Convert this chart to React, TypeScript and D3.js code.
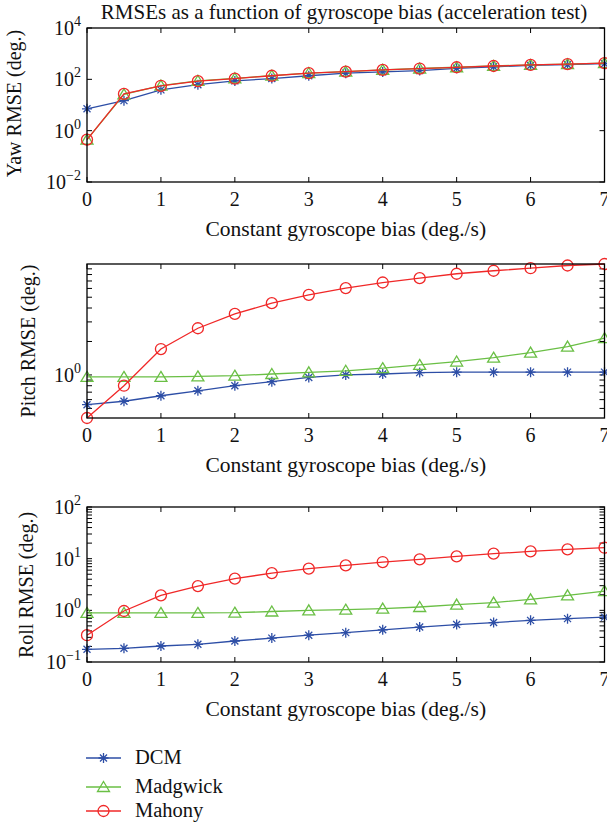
import React from 'react';
import * as d3 from 'd3';

const biasValues = [0, 0.5, 1, 1.5, 2, 2.5, 3, 3.5, 4, 4.5, 5, 5.5, 6, 6.5, 7];
const xTickValues = [0, 1, 2, 3, 4, 5, 6, 7];
const seriesNames = ['DCM', 'Madgwick', 'Mahony'];
const seriesColors = ['#2d4ea6', '#6abf45', '#f02828'];
const seriesMarkers = ['star', 'triangle', 'circle'];

const yawDCM = [7.1, 14.8, 38.9, 61.7, 87, 107, 138, 174, 195, 219, 269, 309, 347, 372, 407];
const yawMadgwick = [0.45, 26, 57, 87, 109, 139, 176, 201, 235, 264, 296, 332, 364, 390, 428];
const yawMahony = [0.45, 27, 56, 85, 107, 138, 174, 200, 234, 263, 295, 331, 363, 389, 427];

const pitchDCM = [0.54, 0.58, 0.65, 0.72, 0.8, 0.87, 0.95, 1.0, 1.02, 1.05, 1.06, 1.06, 1.06, 1.06, 1.06];
const pitchMadgwick = [0.96, 0.96, 0.96, 0.97, 0.985, 1.02, 1.055, 1.09, 1.15, 1.23, 1.32, 1.43, 1.59, 1.8, 2.14];
const pitchMahony = [0.41, 0.8, 1.71, 2.63, 3.54, 4.42, 5.25, 6.04, 6.78, 7.42, 8.13, 8.65, 9.12, 9.65, 9.95];

const rollDCM = [0.176, 0.184, 0.204, 0.22, 0.255, 0.29, 0.33, 0.37, 0.42, 0.475, 0.53, 0.58, 0.64, 0.69, 0.74];
const rollMadgwick = [0.89, 0.89, 0.89, 0.89, 0.9, 0.95, 1.0, 1.03, 1.08, 1.16, 1.29, 1.41, 1.63, 1.95, 2.36];
const rollMahony = [0.33, 0.97, 1.95, 2.95, 4.1, 5.26, 6.4, 7.4, 8.6, 9.7, 11.1, 12.5, 13.8, 15.1, 16.3];

const yawTickExponents = [-2, 0, 2, 4];
const pitchTickExponents = [0];
const rollTickExponents = [-1, 0, 1, 2];

const titleText = 'RMSEs as a function of gyroscope bias (acceleration test)';
const xLabelText = 'Constant gyroscope bias (deg./s)';
const yLabels = ['Yaw RMSE (deg.)', 'Pitch RMSE (deg.)', 'Roll RMSE (deg.)'];

const FONT = '"Liberation Serif", "Times New Roman", serif';
const W = 607;
const H = 827;
const LEFT = 87;
const RIGHT = 604.5;

type Panel = {
  top: number;
  bottom: number;
  domain: [number, number];
  series: number[][];
  tickExps: number[];
  minor: boolean;
  yLabel: string;
  yLabelX: number;
};

const pitchAll = [...pitchDCM, ...pitchMadgwick, ...pitchMahony];

const panels: Panel[] = [
  { top: 28, bottom: 182, domain: [1e-2, 1e4], series: [yawDCM, yawMadgwick, yawMahony], tickExps: yawTickExponents, minor: false, yLabel: yLabels[0], yLabelX: 21 },
  { top: 264, bottom: 418, domain: d3.extent(pitchAll) as [number, number], series: [pitchDCM, pitchMadgwick, pitchMahony], tickExps: pitchTickExponents, minor: true, yLabel: yLabels[1], yLabelX: 35 },
  { top: 507, bottom: 662, domain: [1e-1, 1e2], series: [rollDCM, rollMadgwick, rollMahony], tickExps: rollTickExponents, minor: true, yLabel: yLabels[2], yLabelX: 33 },
];

const yCenters = [103.5, 341, 585];

function Marker({ kind, x, y, color }: { kind: string; x: number; y: number; color: string }) {
  if (kind === 'circle') {
    return <circle cx={x} cy={y} r={5.5} fill="none" stroke={color} strokeWidth={1.3} />;
  }
  if (kind === 'triangle') {
    return <path d={`M${x},${y - 5.5}L${x + 6},${y + 4.5}L${x - 6},${y + 4.5}Z`} fill="none" stroke={color} strokeWidth={1.3} />;
  }
  const r = 5;
  const a = 3.5;
  return (
    <path
      d={`M${x},${y - r}V${y + r}M${x - r},${y}H${x + r}M${x - a},${y - a}L${x + a},${y + a}M${x - a},${y + a}L${x + a},${y - a}`}
      fill="none"
      stroke={color}
      strokeWidth={1.3}
    />
  );
}

function minorTicks(domain: [number, number]): number[] {
  const out: number[] = [];
  const lo = Math.floor(Math.log10(domain[0]));
  const hi = Math.ceil(Math.log10(domain[1]));
  for (let e = lo; e <= hi; e++) {
    for (let m = 2; m <= 9; m++) {
      const v = m * Math.pow(10, e);
      if (v > domain[0] && v < domain[1]) out.push(v);
    }
  }
  return out;
}

function PanelView({ p, idx }: { p: Panel; idx: number }) {
  const x = d3.scaleLinear().domain([0, 7]).range([LEFT, RIGHT]);
  const y = d3.scaleLog().domain(p.domain).range([p.bottom, p.top]);
  const line = d3
    .line<number>()
    .x((_, i) => x(biasValues[i]))
    .y((d) => y(d));
  const tl = 5;
  const majors = p.tickExps.map((e) => Math.pow(10, e));
  const minors = p.minor ? minorTicks(p.domain) : [];
  return (
    <g>
      {xTickValues.map((v) => (
        <g key={'xt' + v}>
          <line x1={x(v)} x2={x(v)} y1={p.bottom} y2={p.bottom - tl} stroke="#000" strokeWidth={1} />
          <line x1={x(v)} x2={x(v)} y1={p.top} y2={p.top + tl} stroke="#000" strokeWidth={1} />
          <text x={x(v)} y={p.bottom + 24} textAnchor="middle" fontFamily={FONT} fontSize={20} fill="#111">
            {v}
          </text>
        </g>
      ))}
      {[...majors, ...minors].map((v, i) => (
        <g key={'yt' + i}>
          <line x1={LEFT} x2={LEFT + tl} y1={y(v)} y2={y(v)} stroke="#000" strokeWidth={1} />
          <line x1={RIGHT} x2={RIGHT - tl} y1={y(v)} y2={y(v)} stroke="#000" strokeWidth={1} />
        </g>
      ))}
      {p.tickExps.map((e) => (
        <text key={'yl' + e} x={LEFT - 6} y={y(Math.pow(10, e)) + 7} textAnchor="end" fontFamily={FONT} fontSize={20} fill="#111">
          10
          <tspan dy={-9} fontSize={14}>
            {e < 0 ? '\u2212' + Math.abs(e) : String(e)}
          </tspan>
        </text>
      ))}
      {p.series.map((s, si) => (
        <g key={'s' + si}>
          <path d={line(s) || ''} fill="none" stroke={seriesColors[si]} strokeWidth={1.3} />
          {s.map((v, i) => (
            <Marker key={i} kind={seriesMarkers[si]} x={x(biasValues[i])} y={y(v)} color={seriesColors[si]} />
          ))}
        </g>
      ))}
      <rect x={LEFT} y={p.top} width={RIGHT - LEFT} height={p.bottom - p.top} fill="none" stroke="#000" strokeWidth={1.3} />
      <text x={(LEFT + RIGHT) / 2} y={p.bottom + 54} textAnchor="middle" fontFamily={FONT} fontSize={21.5} fill="#111">
        {xLabelText}
      </text>
      <text
        transform={`translate(${p.yLabelX},${yCenters[idx]}) rotate(-90)`}
        textAnchor="middle"
        fontFamily={FONT}
        fontSize={20}
        fill="#111"
      >
        {p.yLabel}
      </text>
    </g>
  );
}

export default function App() {
  const legendY = [758, 787, 811];
  return (
    <svg width={W} height={H} style={{ position: 'absolute', left: 0, top: 0, background: '#fff' }}>
      <rect x={0} y={0} width={W} height={H} fill="#fff" />
      <text x={344} y={19} textAnchor="middle" fontFamily={FONT} fontSize={21} fill="#111">
        {titleText}
      </text>
      {panels.map((p, i) => (
        <PanelView key={i} p={p} idx={i} />
      ))}
      {seriesNames.map((n, i) => (
        <g key={n}>
          <line x1={86} x2={121} y1={legendY[i]} y2={legendY[i]} stroke={seriesColors[i]} strokeWidth={1.3} />
          <Marker kind={seriesMarkers[i]} x={103.5} y={legendY[i]} color={seriesColors[i]} />
          <text x={135} y={legendY[i] + 6} fontFamily={FONT} fontSize={20.5} fill="#111">
            {n}
          </text>
        </g>
      ))}
    </svg>
  );
}
